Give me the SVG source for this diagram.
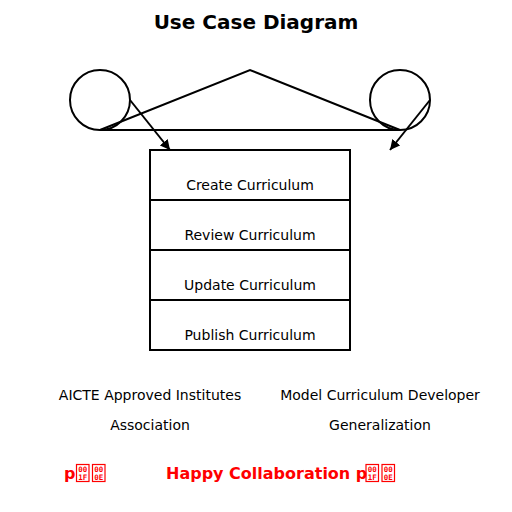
<svg xmlns="http://www.w3.org/2000/svg" width="512" height="512" viewBox="0 0 512 512">
<style>
.shape{fill:none;stroke:#000;stroke-width:2}
.lbl{font-family:"DejaVu Sans",sans-serif;font-size:14px;fill:#000;text-anchor:middle}
.title{font-family:"DejaVu Sans",sans-serif;font-size:20px;font-weight:bold;fill:#000;text-anchor:middle}
.red{font-family:"DejaVu Sans",sans-serif;font-size:16px;font-weight:bold;fill:#ff0000}
.hexbox{fill:none;stroke:#ff0000;stroke-width:1.2}
.hex{font-family:"DejaVu Sans Mono",monospace;font-size:7.5px;font-weight:bold;fill:#ff0000;text-anchor:middle}
.conn{fill:none;stroke:#000;stroke-width:2}
</style>
<defs>
<marker id="arrow" viewBox="0 0 10 10" refX="10" refY="5" markerWidth="5" markerHeight="5" orient="auto" markerUnits="strokeWidth">
<path d="M0,0 L10,5 L0,10 Z" fill="#000"/>
</marker>
</defs>
<rect width="512" height="512" fill="#fff"/>
<text class="title" x="256" y="29">Use Case Diagram</text>
<g id="actor-left"><circle class="shape" cx="100" cy="100" r="30"/></g>
<g id="actor-right"><circle class="shape" cx="400" cy="100" r="30"/></g>
<g id="triangle"><polygon class="shape" points="100,130 250,70 400,130"/></g>
<g id="connectors">
<line class="conn" x1="130" y1="100" x2="170" y2="150" marker-end="url(#arrow)"/>
<line class="conn" x1="430" y1="100" x2="390" y2="150" marker-end="url(#arrow)"/>
</g>
<g id="uc-create"><rect class="shape" x="150" y="150" width="200" height="50"/><text class="lbl" x="250" y="190">Create Curriculum</text></g>
<g id="uc-review"><rect class="shape" x="150" y="200" width="200" height="50"/><text class="lbl" x="250" y="240">Review Curriculum</text></g>
<g id="uc-update"><rect class="shape" x="150" y="250" width="200" height="50"/><text class="lbl" x="250" y="290">Update Curriculum</text></g>
<g id="uc-publish"><rect class="shape" x="150" y="300" width="200" height="50"/><text class="lbl" x="250" y="340">Publish Curriculum</text></g>
<text class="lbl" x="150" y="400">AICTE Approved Institutes</text>
<text class="lbl" x="380" y="400">Model Curriculum Developer</text>
<text class="lbl" x="150" y="430">Association</text>
<text class="lbl" x="380" y="430">Generalization</text>
<g id="red-left">
<text class="red" x="64" y="479">p</text>
<rect class="hexbox" x="76.5" y="464.5" width="12.5" height="17"/>
<text class="hex" x="82.75" y="472">00</text><text class="hex" x="82.75" y="480">1F</text>
<rect class="hexbox" x="92.5" y="464.5" width="12.5" height="17"/>
<text class="hex" x="98.75" y="472">00</text><text class="hex" x="98.75" y="480">0E</text>
</g>
<g id="red-right">
<text class="red" x="166" y="479">Happy Collaboration p</text>
<rect class="hexbox" x="366" y="464.5" width="12.5" height="17"/>
<text class="hex" x="372.25" y="472">00</text><text class="hex" x="372.25" y="480">1F</text>
<rect class="hexbox" x="382" y="464.5" width="12.5" height="17"/>
<text class="hex" x="388.25" y="472">00</text><text class="hex" x="388.25" y="480">0E</text>
</g>
</svg>
